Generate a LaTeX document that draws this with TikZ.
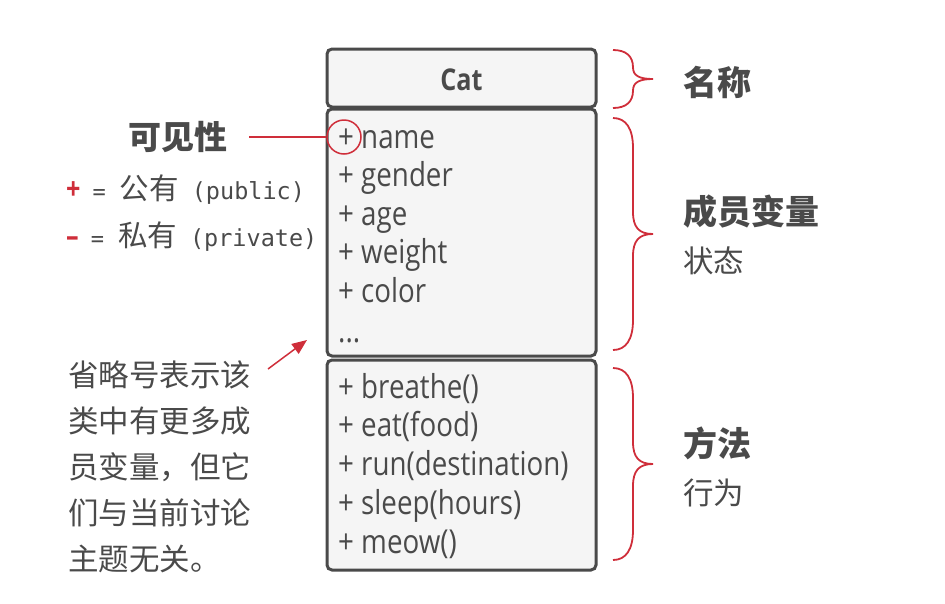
\documentclass[tikz,border=0pt]{standalone}
\usepackage{fontspec}
\setmainfont{Open Sans}[FakeStretch=0.84]
\setmonofont{DejaVu Sans Mono}
\newfontfamily\cjk{Noto Sans CJK SC}
\usetikzlibrary{arrows.meta}

\definecolor{ink}{HTML}{4A4A4A}
\definecolor{boxfill}{HTML}{F5F5F5}
\definecolor{accent}{HTML}{CF2E3A}

\tikzset{
  classbox/.style={draw=ink, fill=boxfill, line width=3pt, rounded corners=5pt,
    minimum width=269pt, inner sep=0pt},
  member/.style={anchor=base west, inner sep=0pt, text=ink,
    font=\fontsize{33}{33}\selectfont},
  heading/.style={anchor=west, inner sep=0pt, text=ink,
    font=\cjk\bfseries\fontsize{34}{34}\selectfont},
  note/.style={anchor=west, inner sep=0pt, text=ink,
    font=\cjk\fontsize{30.5}{30.5}\selectfont},
  redline/.style={draw=accent, line width=1.5pt},
}

% right-hand curly brace: x, top, bottom
\newcommand{\catbrace}[3]{%
  \pgfmathsetmacro\bmid{(#2+#3)/2}
  \pgfmathsetmacro\bend{min(30,0.3*(#3-#2))}
  \pgfmathsetmacro\btip{min(22,0.2*(#3-#2))}
  \draw[redline, line width=1.8pt] (#1,#2)
      .. controls (#1+13,#2) and (#1+20,#2+0.35*\bend) .. (#1+20,#2+\bend)
      -- (#1+20,\bmid-\btip)
      .. controls (#1+20,\bmid-0.3*\btip) and (#1+26,\bmid) .. (#1+40,\bmid)
      .. controls (#1+26,\bmid) and (#1+20,\bmid+0.3*\btip) .. (#1+20,\bmid+\btip)
      -- (#1+20,#3-\bend)
      .. controls (#1+20,#3-0.35*\bend) and (#1+13,#3) .. (#1,#3);
}

\begin{document}
\begin{tikzpicture}[x=1pt, y=-1pt]
  \useasboundingbox (0,0) rectangle (945,603);

  % The class: name, fields, methods.
  \node[classbox, minimum height=58pt] (namebox) at (461.5,78) {};
  \node[classbox, minimum height=247pt] (attrbox) at (461.5,232.5) {};
  \node[classbox, minimum height=210pt] (methbox) at (461.5,465) {};
  \node[text=ink, inner sep=0pt, font=\bfseries\fontsize{30}{30}\selectfont]
      (catname) at (461.5,80) {Cat};

  \foreach \m [count=\i] in {name,gender,age,weight,color}
    \node[member] (attr\i) at (338,{148+38.6*(\i-1)}) {+ \m};
  \node[member] (attrmore) at (338,342) {...};
  \foreach \m [count=\i] in {breathe(),eat(food),run(destination),sleep(hours),meow()}
    \node[member] (meth\i) at (338,{398+38.8*(\i-1)}) {+ \m};

  % Visibility legend on the left.
  \node[heading, anchor=center, font=\cjk\bfseries\fontsize{33}{33}\selectfont]
      (vislabel) at (177.5,137) {可见性};
  \node[circle, draw=accent, line width=1.5pt, minimum size=34pt, inner sep=0pt]
      (vismark) at (344,137) {};
  \draw[redline, shorten <=22pt] (vislabel) -- (vismark);

  \node[anchor=west, inner sep=0pt, text=ink] (public) at (66,190)
      {\textcolor{accent}{\bfseries\fontsize{30}{30}\selectfont +}\hspace{12pt}%
       {\ttfamily\fontsize{22}{22}\selectfont =}\hspace{14pt}%
       {\cjk\fontsize{29.5}{29.5}\selectfont 公有}\hspace{13pt}%
       {\ttfamily\fontsize{23.5}{23.5}\selectfont (public)}};
  \node[anchor=west, inner sep=0pt, text=ink] (private) at (66,237)
      {\textcolor{accent}{\bfseries\fontsize{30}{30}\selectfont –}\hspace{12pt}%
       {\ttfamily\fontsize{22}{22}\selectfont =}\hspace{14pt}%
       {\cjk\fontsize{29.5}{29.5}\selectfont 私有}\hspace{13pt}%
       {\ttfamily\fontsize{23.5}{23.5}\selectfont (private)}};

  % Note about the ellipsis.
  \foreach \l [count=\i] in {省略号表示该,类中有更多成,员变量，但它,们与当前讨论,主题无关。}
    \node[note] (morenote\i) at (68,{375+46*(\i-1)}) {\l};
  \coordinate (notetail) at (268,369);
  \coordinate (notetip) at (307,340);
  \draw[redline, -{Triangle[length=15pt,width=12pt]}] (notetail) -- (notetip);

  % Braces and section labels on the right.
  \catbrace{613}{50}{108}
  \catbrace{613}{118}{350}
  \catbrace{613}{368}{560}

  \node[heading] (namelabel) at (683,82) {名称};
  \node[heading] (attrlabel) at (683,212) {成员变量};
  \node[note] (attrnote) at (683,261) {状态};
  \node[heading] (methlabel) at (683,443) {方法};
  \node[note] (methnote) at (683,493) {行为};
\end{tikzpicture}
\end{document}
